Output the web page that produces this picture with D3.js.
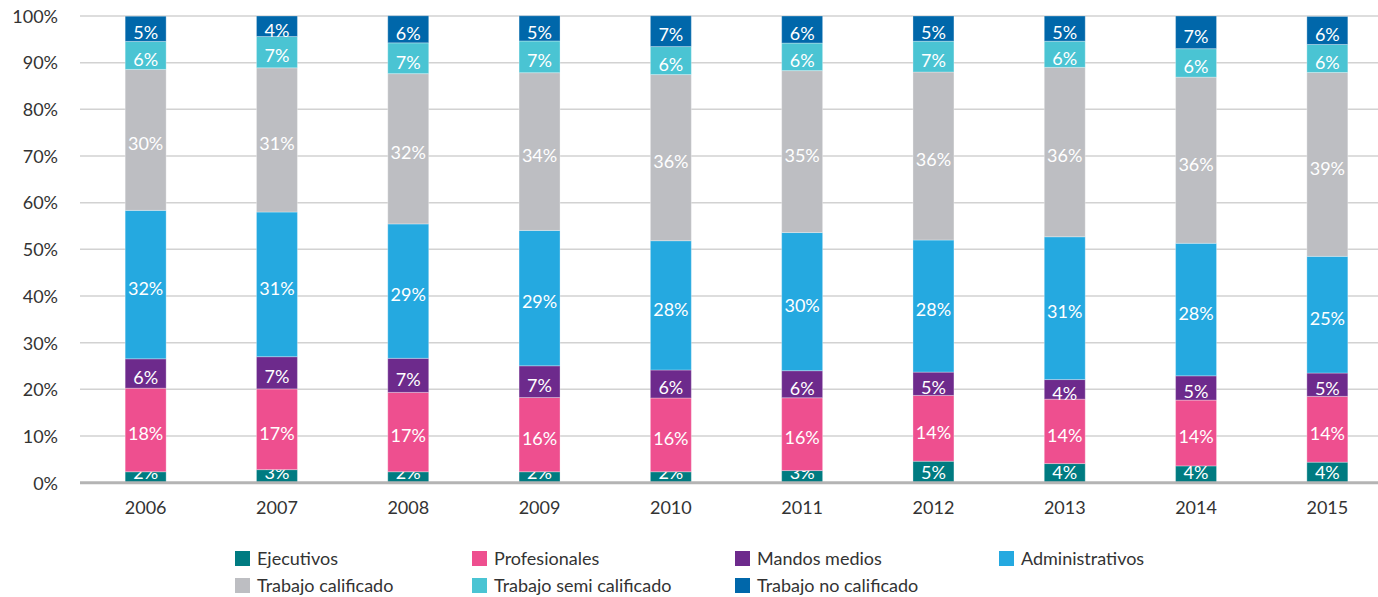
<!DOCTYPE html>
<html>
<head>
<meta charset="utf-8">
<script src="https://cdn.jsdelivr.net/npm/d3@7"></script>
<style>
  html, body { margin: 0; padding: 0; background: #fff; }
  svg { display: block; font-family: Lato, "Open Sans", sans-serif; }
</style>
</head>
<body>
<svg id="chart" width="1378" height="597"></svg>
<script>
// Workforce composition by job category, share of total (%)
const years = ["2006", "2007", "2008", "2009", "2010", "2011", "2012", "2013", "2014", "2015"];

const ejecutivos        = [2.35, 2.8, 2.35, 2.35, 2.35, 2.6, 4.6, 4.1, 3.6, 4.4];
const profesionales     = [17.9, 17.3, 17.0, 15.9, 15.8, 15.6, 14.1, 13.8, 14.1, 14.1];
const mandosMedios      = [6.3, 6.9, 7.3, 6.8, 6.0, 5.8, 5.0, 4.2, 5.2, 5.0];
const administrativos   = [31.8, 31.0, 28.8, 29.0, 27.7, 29.6, 28.3, 30.6, 28.4, 25.0];
const trabajoCalificado = [30.2, 30.9, 32.2, 33.8, 35.6, 34.7, 36.0, 36.3, 35.6, 39.4];
const trabajoSemi       = [6.0, 6.7, 6.6, 6.8, 6.0, 5.9, 6.6, 5.6, 6.1, 6.0];
const trabajoNo         = [5.4, 4.4, 5.8, 5.4, 6.6, 5.8, 5.4, 5.4, 7.0, 6.0];

const seriesNames = ["Ejecutivos", "Profesionales", "Mandos medios", "Administrativos",
                     "Trabajo calificado", "Trabajo semi calificado", "Trabajo no calificado"];
const seriesValues = [ejecutivos, profesionales, mandosMedios, administrativos,
                      trabajoCalificado, trabajoSemi, trabajoNo];
const seriesColors = ["#007B81", "#EE4F8F", "#6D2A8C", "#25A9E0", "#BDBEC2", "#4AC4D3", "#0067AA"];

const yTicks = [0, 10, 20, 30, 40, 50, 60, 70, 80, 90, 100];

// Rows for the stack layout
const rows = years.map((yr, i) => {
  const r = { year: yr };
  seriesNames.forEach((n, k) => { r[n] = seriesValues[k][i]; });
  return r;
});

const svg = d3.select("#chart");
const plotLeft = 80, plotRight = 1378, plotTop = 16, plotBottom = 482.7;

const x = d3.scaleBand().domain(years).range([plotLeft, 1393]).paddingInner(0.688).paddingOuter(0.344);
const y = d3.scaleLinear().domain([0, 100]).range([plotBottom, plotTop]);
const color = d3.scaleOrdinal().domain(seriesNames).range(seriesColors);

// Gridlines
svg.append("g")
  .selectAll("line")
  .data(yTicks.filter(t => t > 0))
  .join("line")
  .attr("x1", plotLeft).attr("x2", plotRight)
  .attr("y1", d => y(d)).attr("y2", d => y(d))
  .attr("stroke", "#d2d2d2").attr("stroke-width", 1.5);

// Y axis labels
const yAxis = d3.axisLeft(y).tickValues(yTicks).tickFormat(d => d + "%").tickSize(0).tickPadding(0);
const gy = svg.append("g").attr("transform", "translate(58,0)").call(yAxis);
gy.select(".domain").remove();
gy.selectAll("text")
  .attr("font-family", "Lato, sans-serif")
  .attr("font-size", 18).attr("fill", "#333").attr("dy", "0.35em");

// Stacked bars
const stacked = d3.stack().keys(seriesNames)(rows);

const layers = svg.append("g")
  .selectAll("g")
  .data(stacked)
  .join("g")
  .attr("fill", d => color(d.key));

layers.selectAll("rect")
  .data(d => d)
  .join("rect")
  .attr("x", d => x(d.data.year))
  .attr("width", x.bandwidth())
  .attr("y", d => y(d[1]))
  .attr("height", d => y(d[0]) - y(d[1]))
  .attr("stroke", "rgba(255,255,255,0.3)")
  .attr("stroke-width", 1);

// Segment value labels
layers.selectAll("text")
  .data(d => d)
  .join("text")
  .attr("x", d => x(d.data.year) + x.bandwidth() / 2)
  .attr("y", d => Math.min((y(d[0]) + y(d[1])) / 2 + 4, plotBottom - 10))
  .attr("dy", "0.35em")
  .attr("text-anchor", "middle")
  .attr("font-size", 18)
  .attr("fill", "#fff")
  .text(d => Math.round(d[1] - d[0]) + "%");

// Baseline
svg.append("line")
  .attr("x1", plotLeft).attr("x2", plotRight)
  .attr("y1", plotBottom).attr("y2", plotBottom)
  .attr("stroke", "#b4b4b4").attr("stroke-width", 3);

// X axis labels
const xAxis = d3.axisBottom(x).tickSize(0).tickPadding(0);
const gx = svg.append("g").attr("transform", "translate(0,508)").call(xAxis);
gx.select(".domain").remove();
gx.selectAll("text")
  .attr("font-family", "Lato, sans-serif")
  .attr("font-size", 18).attr("fill", "#333").attr("dy", "0.35em");

// Legend
const legendCols = [257, 494, 757, 1021];
const legendRows = [559, 586];
const legend = svg.append("g")
  .selectAll("g")
  .data(seriesNames)
  .join("g")
  .attr("transform", (d, i) => `translate(${legendCols[i % 4]},${legendRows[Math.floor(i / 4)]})`);

legend.append("rect")
  .attr("x", -22).attr("y", -8)
  .attr("width", 15).attr("height", 15)
  .attr("fill", d => color(d));

legend.append("text")
  .attr("x", 0).attr("y", 0).attr("dy", "0.35em")
  .attr("font-size", 18).attr("fill", "#333")
  .text(d => d);
</script>
</body>
</html>
